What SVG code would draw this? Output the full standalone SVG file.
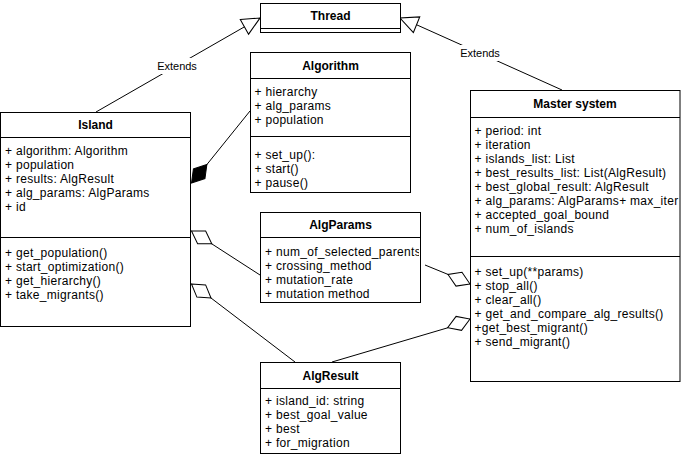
<svg xmlns="http://www.w3.org/2000/svg" width="681" height="466" viewBox="0 0 681 466">
<style>
.box{fill:#fff;stroke:#000;stroke-width:1}
.div{stroke:#000;stroke-width:1;fill:none}
.title{font-family:"Liberation Sans",Arial,Helvetica,sans-serif;font-size:12px;font-weight:bold;text-anchor:middle;fill:#000}
.attr{font-family:"Liberation Sans",Arial,Helvetica,sans-serif;font-size:12px;letter-spacing:0.3px;fill:#000}
.lbl{font-family:"Liberation Sans",Arial,Helvetica,sans-serif;font-size:11px;text-anchor:middle;fill:#000}
.edge{stroke:#000;stroke-width:1;fill:none}
</style>
<defs>
<marker id="tri" markerUnits="userSpaceOnUse" markerWidth="20" markerHeight="20" viewBox="-18 -9 19 18" refX="0" refY="0" orient="auto" overflow="visible">
<path d="M-17,-8 L0,0 L-17,8 Z" fill="#fff" stroke="#000" stroke-width="1"/>
</marker>
<marker id="dia" markerUnits="userSpaceOnUse" markerWidth="26" markerHeight="18" viewBox="-1 -9 26 18" refX="0" refY="0" orient="auto" overflow="visible">
<path d="M0,0 L12,-7.5 L24,0 L12,7.5 Z" fill="#fff" stroke="#000" stroke-width="1"/>
</marker>
<marker id="diaf" markerUnits="userSpaceOnUse" markerWidth="26" markerHeight="18" viewBox="-1 -9 26 18" refX="0" refY="0" orient="auto" overflow="visible">
<path d="M0,0 L12,-7.5 L24,0 L12,7.5 Z" fill="#000" stroke="#000" stroke-width="1"/>
</marker>
<clipPath id="cpParams"><rect x="261" y="238" width="158" height="64"/></clipPath>
<clipPath id="cpMaster"><rect x="471" y="118" width="208" height="263"/></clipPath>
</defs>

<g id="connectors">
<path class="edge" d="M96,112 L245,26.5 L260,18" marker-end="url(#tri)"/>
<rect x="156" y="58" width="42" height="16" fill="#fff"/>
<text class="lbl" x="177" y="70">Extends</text>
<path class="edge" d="M562,90 L416,24.5 L400,18" marker-end="url(#tri)"/>
<rect x="459" y="45" width="43" height="16" fill="#fff"/>
<text class="lbl" x="480" y="57">Extends</text>
<path class="edge" d="M191.5,183 L206.5,165 L250,111" marker-start="url(#diaf)"/>
<path class="edge" d="M191.5,231 L212,244 L260,275" marker-start="url(#dia)"/>
<path class="edge" d="M191.5,284 L211,298 L295,362" marker-start="url(#dia)"/>
<path class="edge" d="M470,284 L447,274 L425,265" marker-start="url(#dia)"/>
<path class="edge" d="M470,319 L447,328 L332,362" marker-start="url(#dia)"/>
</g>

<g id="thread">
<rect class="box" x="260.5" y="3.5" width="140" height="29"/>
<line class="div" x1="260.5" y1="28.5" x2="400.5" y2="28.5"/>
<text class="title" x="330.5" y="20">Thread</text>
</g>

<g id="algorithm">
<rect class="box" x="250.5" y="52.5" width="160" height="140"/>
<line class="div" x1="250.5" y1="78.5" x2="410.5" y2="78.5"/>
<line class="div" x1="250.5" y1="136.5" x2="410.5" y2="136.5"/>
<text class="title" x="330.5" y="70">Algorithm</text>
<text class="attr" x="254.5" y="96">+ hierarchy</text>
<text class="attr" x="254.5" y="110">+ alg_params</text>
<text class="attr" x="254.5" y="124">+ population</text>
<text class="attr" x="254.5" y="159">+ set_up():</text>
<text class="attr" x="254.5" y="173">+ start()</text>
<text class="attr" x="254.5" y="187">+ pause()</text>
</g>

<g id="island">
<rect class="box" x="0.5" y="112.5" width="190" height="214"/>
<line class="div" x1="0.5" y1="137.5" x2="190.5" y2="137.5"/>
<line class="div" x1="0.5" y1="237.5" x2="190.5" y2="237.5"/>
<text class="title" x="95.5" y="129">Island</text>
<text class="attr" x="5" y="155">+ algorithm: Algorithm</text>
<text class="attr" x="5" y="169">+ population</text>
<text class="attr" x="5" y="183">+ results: AlgResult</text>
<text class="attr" x="5" y="197">+ alg_params: AlgParams</text>
<text class="attr" x="5" y="211">+ id</text>
<text class="attr" x="5" y="257">+ get_population()</text>
<text class="attr" x="5" y="271">+ start_optimization()</text>
<text class="attr" x="5" y="285">+ get_hierarchy()</text>
<text class="attr" x="5" y="299">+ take_migrants()</text>
</g>

<g id="master-system">
<rect class="box" x="470.5" y="90.5" width="209.5" height="291"/>
<line class="div" x1="470.5" y1="117.5" x2="680" y2="117.5"/>
<line class="div" x1="470.5" y1="256.5" x2="680" y2="256.5"/>
<text class="title" x="575" y="108">Master system</text>
<g clip-path="url(#cpMaster)">
<text class="attr" x="474.5" y="135">+ period: int</text>
<text class="attr" x="474.5" y="149">+ iteration</text>
<text class="attr" x="474.5" y="163">+ islands_list: List</text>
<text class="attr" x="474.5" y="177">+ best_results_list: List(AlgResult)</text>
<text class="attr" x="474.5" y="191">+ best_global_result: AlgResult</text>
<text class="attr" x="474.5" y="205">+ alg_params: AlgParams+ max_iter</text>
<text class="attr" x="474.5" y="219">+ accepted_goal_bound</text>
<text class="attr" x="474.5" y="233">+ num_of_islands</text>
<text class="attr" x="474.5" y="276">+ set_up(**params)</text>
<text class="attr" x="474.5" y="290">+ stop_all()</text>
<text class="attr" x="474.5" y="304">+ clear_all()</text>
<text class="attr" x="474.5" y="318">+ get_and_compare_alg_results()</text>
<text class="attr" x="474.5" y="332">+get_best_migrant()</text>
<text class="attr" x="474.5" y="346">+ send_migrant()</text>
</g>
</g>

<g id="algparams">
<rect class="box" x="260.5" y="212.5" width="160" height="90"/>
<line class="div" x1="260.5" y1="237.5" x2="420.5" y2="237.5"/>
<text class="title" x="340.5" y="229">AlgParams</text>
<g clip-path="url(#cpParams)">
<text class="attr" x="265" y="256">+ num_of_selected_parents</text>
<text class="attr" x="265" y="270">+ crossing_method</text>
<text class="attr" x="265" y="284">+ mutation_rate</text>
<text class="attr" x="265" y="298">+ mutation method</text>
</g>
</g>

<g id="algresult">
<rect class="box" x="260.5" y="362.5" width="140" height="91"/>
<line class="div" x1="260.5" y1="388.5" x2="400.5" y2="388.5"/>
<text class="title" x="330.5" y="380">AlgResult</text>
<text class="attr" x="265" y="405">+ island_id: string</text>
<text class="attr" x="265" y="419">+ best_goal_value</text>
<text class="attr" x="265" y="433">+ best</text>
<text class="attr" x="265" y="447">+ for_migration</text>
</g>
</svg>
